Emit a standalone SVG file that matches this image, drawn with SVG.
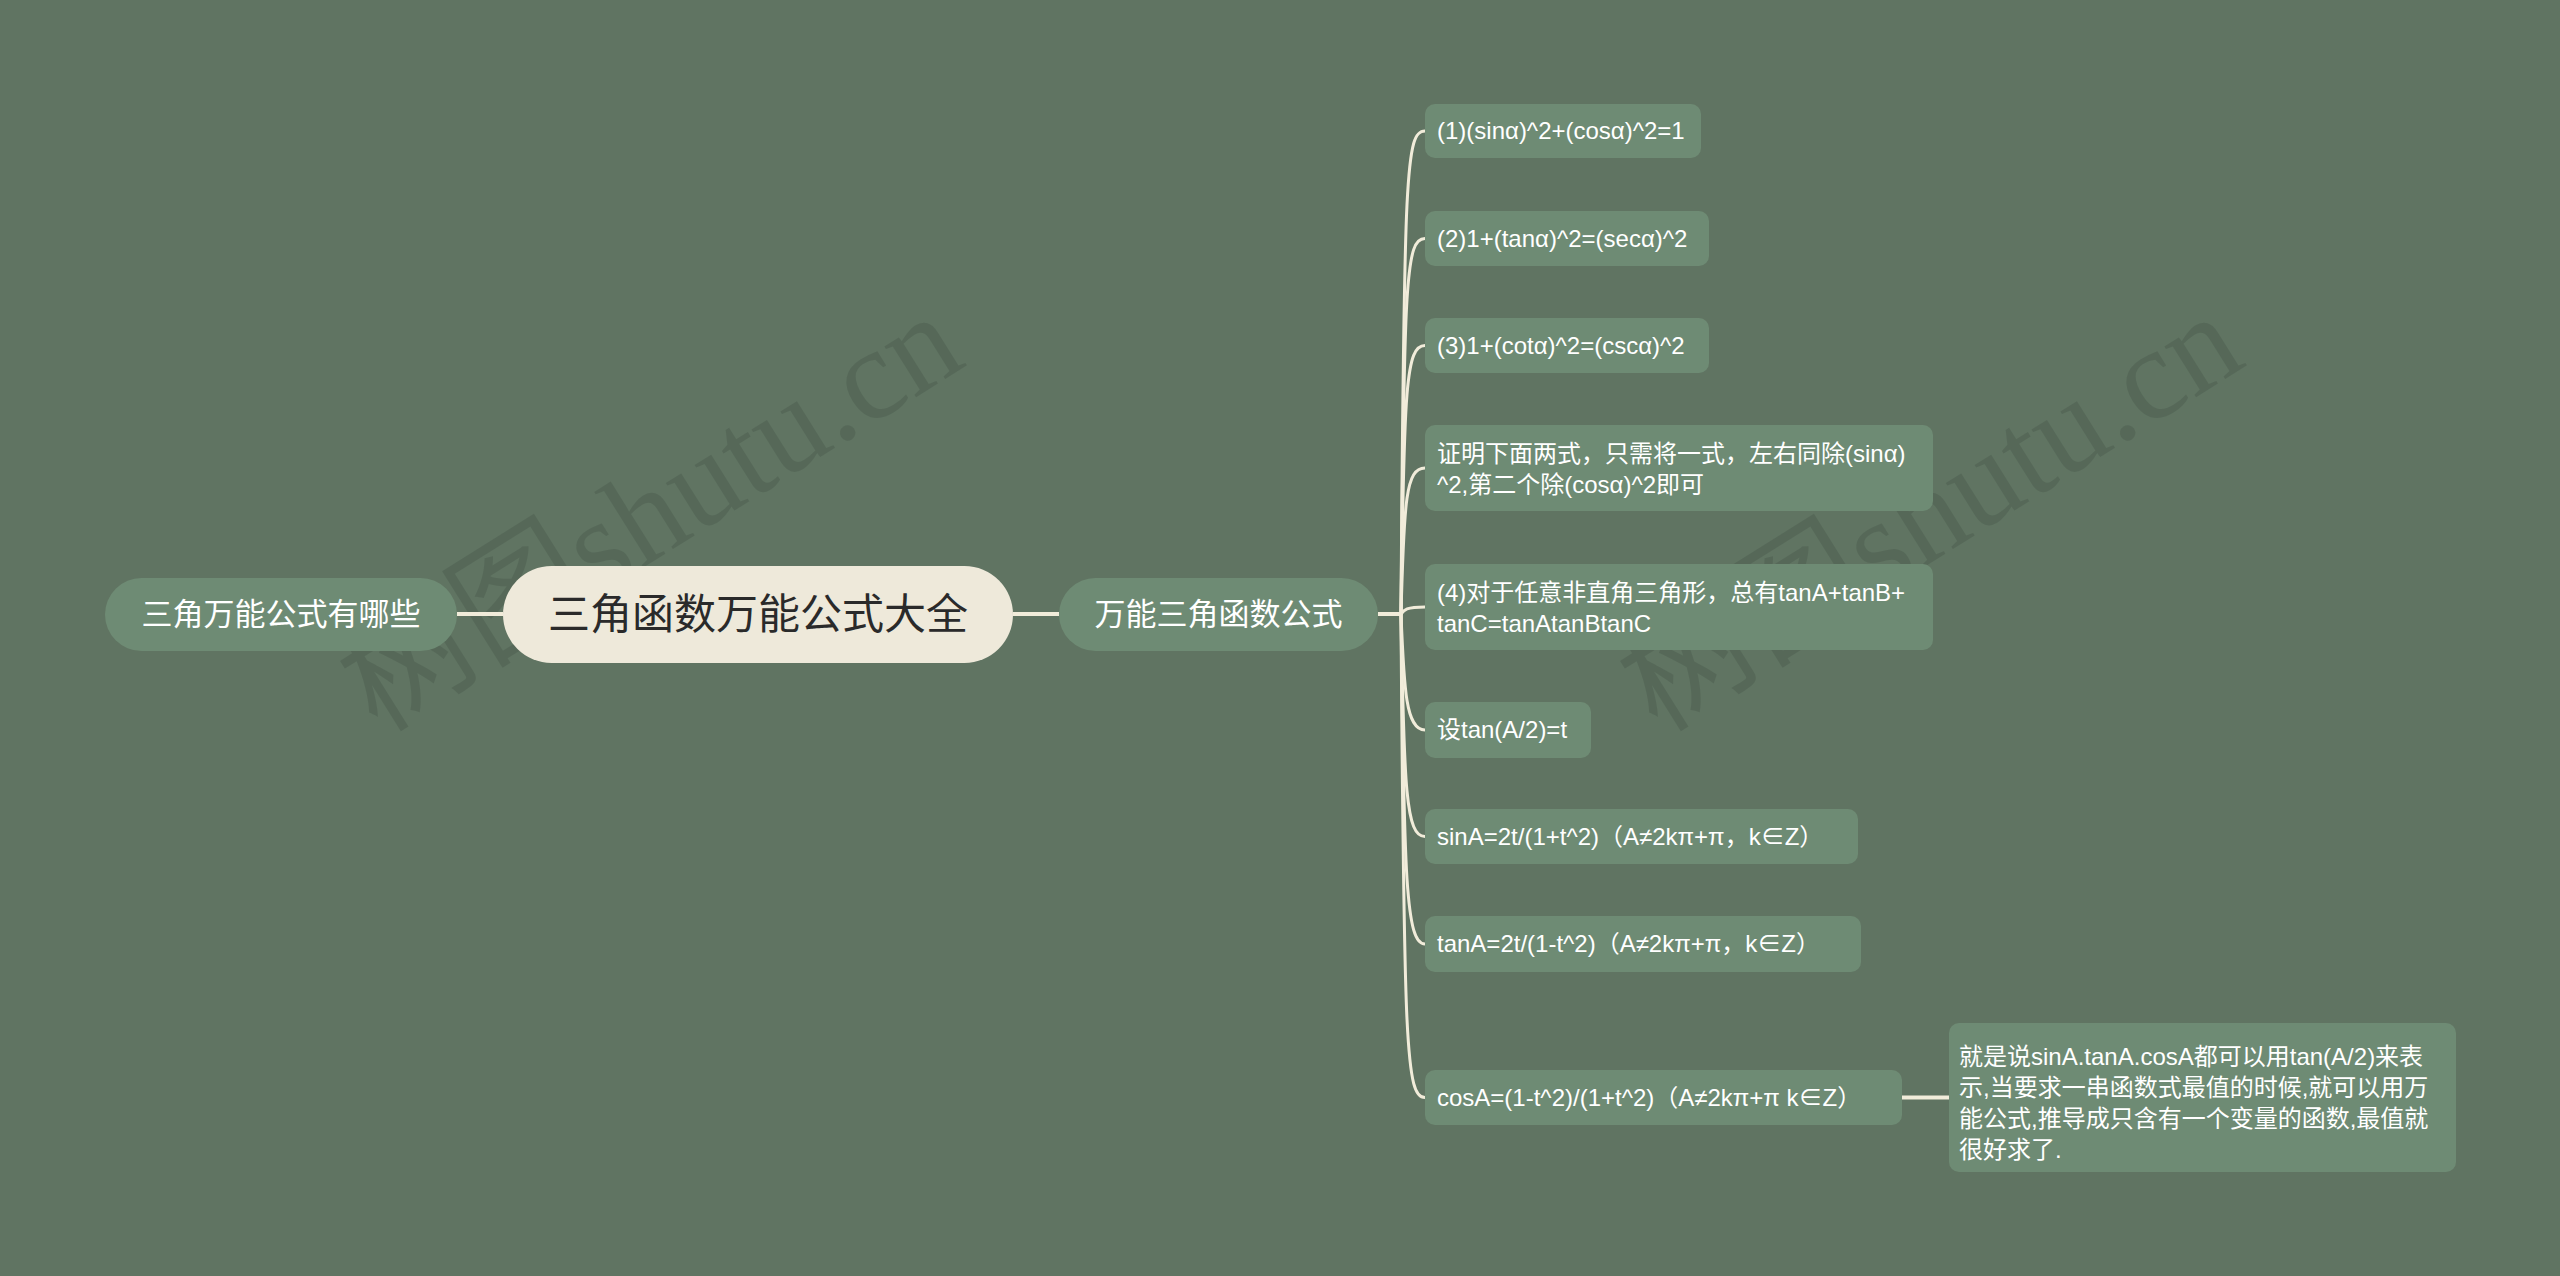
<svg xmlns="http://www.w3.org/2000/svg" width="2560" height="1276" viewBox="0 0 2560 1276">
<style>
.bg{fill:#607462}
.sub{fill:#6e8b74}
.root{fill:#eee9da}
.t{font-family:"Liberation Sans","Noto Sans CJK SC",sans-serif;fill:#ffffff}
.leaf{font-size:24px}
.subt{font-size:31px;text-anchor:middle}
.roott{font-size:42px;text-anchor:middle;fill:#2a2a2a}
.ln{fill:none;stroke:#f1ecda;stroke-width:3;stroke-linecap:round}
.lnw{fill:none;stroke:#f1ecda;stroke-width:4}
.wm{font-family:"Liberation Serif","Noto Sans CJK SC",serif;font-size:130px;fill:#3d4d3f;fill-opacity:0.28;text-anchor:middle}
</style>
<rect class="bg" x="0" y="0" width="2560" height="1276"/>
<g id="watermarks">
<text class="wm" transform="translate(673,549) rotate(-32)">树图shutu.cn</text>
<text class="wm" transform="translate(1953,549) rotate(-32)">树图shutu.cn</text>
</g>
<g id="connectors">
<line class="lnw" x1="457" y1="614" x2="503" y2="614"/>
<line class="lnw" x1="1013" y1="614" x2="1059" y2="614"/>
<line class="lnw" x1="1378" y1="614" x2="1401" y2="614"/>
<path class="ln" d="M1401,614 C1404,166 1406,131 1425,131"/>
<path class="ln" d="M1401,614 C1404,276 1406,238.5 1425,238.5"/>
<path class="ln" d="M1401,614 C1404,386 1406,345.5 1425,345.5"/>
<path class="ln" d="M1401,614 C1404,500 1406,468 1425,468"/>
<path class="ln" d="M1401,614 C1404,610 1406,607 1425,607"/>
<path class="ln" d="M1401,614 C1404,690 1406,730 1425,730"/>
<path class="ln" d="M1401,614 C1404,790 1406,836.5 1425,836.5"/>
<path class="ln" d="M1401,614 C1404,880 1406,944 1425,944"/>
<path class="ln" d="M1401,614 C1404,1050 1406,1097.5 1425,1097.5"/>
<line class="lnw" x1="1902" y1="1097.5" x2="1949" y2="1097.5"/>
</g>
<g id="node-left">
<rect class="sub" x="105" y="578" width="352" height="73" rx="36.5"/>
<text class="t subt" x="281" y="625">三角万能公式有哪些</text>
</g>
<g id="node-root">
<rect class="root" x="503" y="566" width="510" height="97" rx="48.5"/>
<text class="t roott" x="758" y="629">三角函数万能公式大全</text>
</g>
<g id="node-right">
<rect class="sub" x="1059" y="578" width="319" height="73" rx="36.5"/>
<text class="t subt" x="1218.5" y="625">万能三角函数公式</text>
</g>
<g id="n1">
<rect class="sub" x="1425" y="104" width="276" height="54" rx="10"/>
<text class="t leaf" x="1437" y="139">(1)(sinα)^2+(cosα)^2=1</text>
</g>
<g id="n2">
<rect class="sub" x="1425" y="211" width="284" height="55" rx="10"/>
<text class="t leaf" x="1437" y="246.5">(2)1+(tanα)^2=(secα)^2</text>
</g>
<g id="n3">
<rect class="sub" x="1425" y="318" width="284" height="55" rx="10"/>
<text class="t leaf" x="1437" y="353.5">(3)1+(cotα)^2=(cscα)^2</text>
</g>
<g id="n4">
<rect class="sub" x="1425" y="425" width="508" height="86" rx="10"/>
<text class="t leaf" x="1437" y="462">证明下面两式，只需将一式，左右同除(sinα)</text>
<text class="t leaf" x="1437" y="493">^2,第二个除(cosα)^2即可</text>
</g>
<g id="n5">
<rect class="sub" x="1425" y="564" width="508" height="86" rx="10"/>
<text class="t leaf" x="1437" y="601">(4)对于任意非直角三角形，总有tanA+tanB+</text>
<text class="t leaf" x="1437" y="632">tanC=tanAtanBtanC</text>
</g>
<g id="n6">
<rect class="sub" x="1425" y="702" width="166" height="56" rx="10"/>
<text class="t leaf" x="1437" y="738">设tan(A/2)=t</text>
</g>
<g id="n7">
<rect class="sub" x="1425" y="809" width="433" height="55" rx="10"/>
<text class="t leaf" x="1437" y="844.5">sinA=2t/(1+t^2)（A≠2kπ+π，k∈Z）</text>
</g>
<g id="n8">
<rect class="sub" x="1425" y="916" width="436" height="56" rx="10"/>
<text class="t leaf" x="1437" y="952">tanA=2t/(1-t^2)（A≠2kπ+π，k∈Z）</text>
</g>
<g id="n9">
<rect class="sub" x="1425" y="1070" width="477" height="55" rx="10"/>
<text class="t leaf" x="1437" y="1105.5">cosA=(1-t^2)/(1+t^2)（A≠2kπ+π k∈Z）</text>
</g>
<g id="n10">
<rect class="sub" x="1949" y="1023" width="507" height="149" rx="10"/>
<text class="t leaf" x="1959" y="1065">就是说sinA.tanA.cosA都可以用tan(A/2)来表</text>
<text class="t leaf" x="1959" y="1096">示,当要求一串函数式最值的时候,就可以用万</text>
<text class="t leaf" x="1959" y="1127">能公式,推导成只含有一个变量的函数,最值就</text>
<text class="t leaf" x="1959" y="1158">很好求了.</text>
</g>
</svg>
